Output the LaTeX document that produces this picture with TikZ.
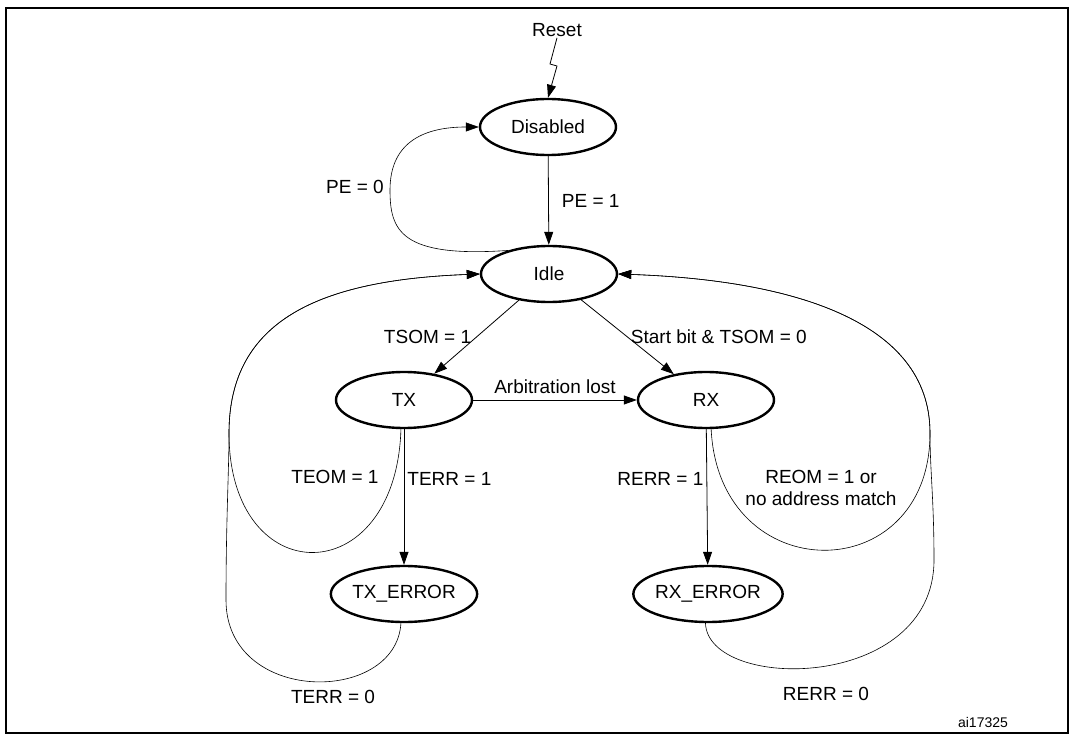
\documentclass[tikz,border=0pt]{standalone}
\usepackage{fontspec}
\setmainfont{Liberation Sans}
\usetikzlibrary{shapes.geometric, arrows.meta, positioning}
\tikzstyle{state} = [ellipse, draw=black, line width=2.4pt,
minimum width=136pt, minimum height=56pt, inner sep=0pt]
\tikzstyle{arrow} = [line width=0.8pt, -{Triangle[length=13pt,width=9pt]}]
\tikzstyle{loop} = [line width=0.6pt]
\tikzstyle{lbl} = [inner sep=1pt]

\begin{document}
\begin{tikzpicture}[x=1pt, y=-1pt,
    every node/.style={font=\fontsize{19}{22}\selectfont}]
\useasboundingbox (0,0) rectangle (1074,735);
\draw [line width=2pt] (6,8) rectangle (1068,733);

\node (disabled) [state] at (548,127) {Disabled};
\node (idle) [state] at (549,274) {Idle};
\node (tx) [state] at (404,400) {TX};
\node (rx) [state] at (706,400) {RX};
\node (txerr) [state] at (404,594) {TX\_ERROR};
\node (rxerr) [state] at (708,594) {RX\_ERROR};

\node (reset) [lbl] at (557,30) {Reset};
\coordinate (z1) at (550,64);
\coordinate (z2) at (557,66);

%-----------straight arrows------------------
\draw [arrow] (reset.south) -- (z1) -- (z2) -- (disabled.north);
\draw [arrow] (disabled) -- node[lbl, right=12pt]{PE = 1} (idle);
\draw [arrow] (idle) -- node[lbl, left=4pt]{TSOM = 1} (tx);
\draw [arrow] (idle) -- node[lbl, right=2pt]{Start bit \& TSOM = 0} (rx);
\draw [arrow] (tx) -- node[lbl, above=5pt]{Arbitration lost} (rx);
\draw [arrow] (tx) -- node[lbl, right=2pt, pos=0.37]{TERR = 1} (txerr);
\draw [arrow] (rx) -- node[lbl, left=2pt, pos=0.37]{RERR = 1} (rxerr);

%-----------loops back------------------
\draw [arrow, loop] (idle.150) .. controls (400,258) and (390,230) .. (390,190)
  .. controls (390,145) and (420,127) .. (disabled.west);
\node (pe0) [lbl] at (355,187) {PE = 0};

\draw [arrow, loop] (tx.-96) .. controls (396,593) and (229,593) .. (229,433)
  .. controls (229,320) and (320,280) .. (idle.west);
\draw [arrow, loop] (txerr.-96) .. controls (396,705) and (226,705) .. (226,600)
  .. controls (226,520) and (229,470) .. (229,433)
  .. controls (229,320) and (320,280) .. (idle.west);
\draw [arrow, loop] (rx.-80) .. controls (719,590) and (930,590) .. (930,433)
  .. controls (930,320) and (790,280) .. (idle.east);
\draw [arrow, loop] (rxerr.-95) .. controls (708,692) and (934,692) .. (934,560)
  .. controls (934,500) and (930,470) .. (930,433)
  .. controls (930,320) and (790,280) .. (idle.east);

\node (teom) [lbl] at (335,477) {TEOM = 1};
\node (reom) [lbl, align=center] at (821,488) {REOM = 1 or\\no address match};
\node (terr0) [lbl] at (333,697) {TERR = 0};
\node (rerr0) [lbl] at (826,694) {RERR = 0};
\node (code) [lbl, font=\fontsize{14}{16}\selectfont] at (983,722) {ai17325};
\end{tikzpicture}
\end{document}
